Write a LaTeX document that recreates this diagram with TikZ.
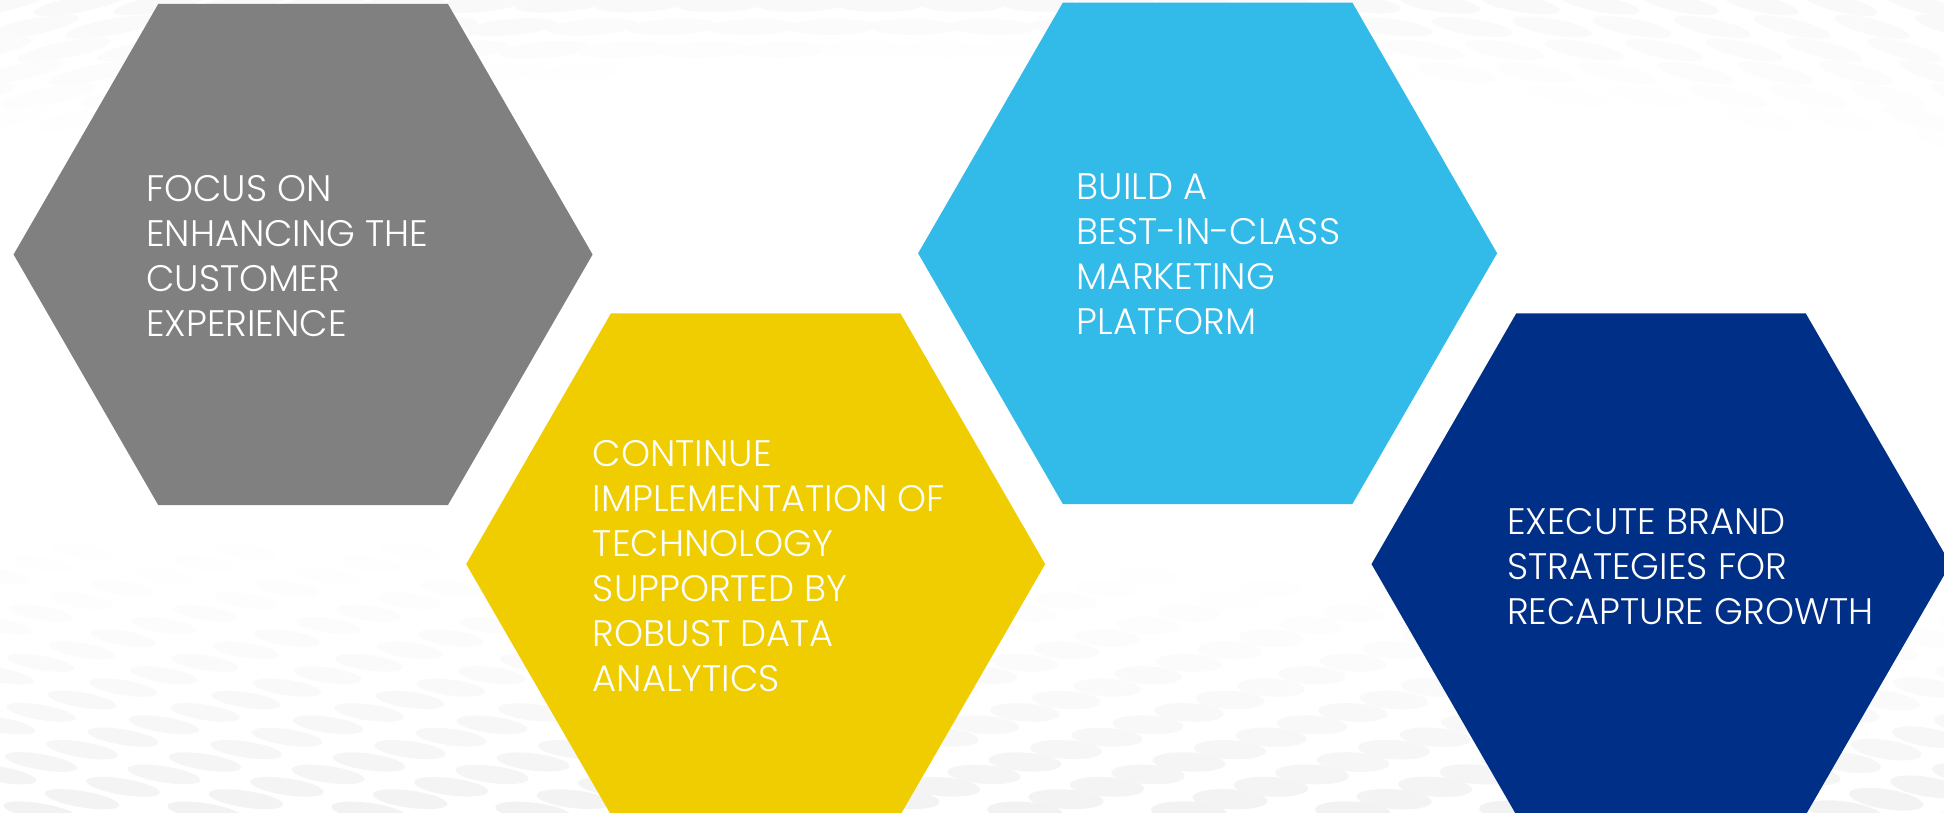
\documentclass[tikz,border=0pt]{standalone}
\usepackage{fontspec}
\setmainfont{Poppins Light}
\usetikzlibrary{shapes.geometric}
\definecolor{hexgray}{RGB}{128,128,128}
\definecolor{hexyellow}{RGB}{239,205,0}
\definecolor{hexsky}{RGB}{50,186,232}
\definecolor{hexnavy}{RGB}{0,47,135}
\tikzset{
  hexa/.style={regular polygon, regular polygon sides=6, minimum size=579pt, inner sep=0pt, outer sep=0pt, draw=none},
  txt/.style={text=white, align=left, inner sep=0pt, anchor=north west, font=\fontsize{36.9}{45}\selectfont},
}
\begin{document}
\begin{tikzpicture}[x=1pt,y=-1pt]
\useasboundingbox (0,0) rectangle (1944,813);
\fill[white] (0,0) rectangle (1944,813);
\begin{scope}
\clip (0,0) rectangle (1944,813);
% background ellipse pattern (bottom)
\foreach \n in {0,...,25}{
  \pgfmathsetmacro{\yy}{824-12.4*\n}
  \pgfmathsetmacro{\ph}{mod(41*\n,164)}
  \foreach \k in {0,...,13}{
    \pgfmathsetmacro{\xx}{\ph+164*\k-164}
    \pgfmathsetmacro{\yz}{520+0.03*\xx}
    \pgfmathsetmacro{\t}{max(0.01,min(1,(\yy-\yz)/(813-\yz)))}
    \pgfmathsetmacro{\sh}{5*\t^1.3}
    \pgfmathsetmacro{\s}{0.78+0.22*\t}
    \pgfmathsetmacro{\rx}{38*\s}
    \pgfmathsetmacro{\ry}{min(10,8+0.0017*\xx)*\s}
    \pgfmathsetmacro{\tl}{\xx<1300 ? max(3,10-0.006*\xx) : 3+0.01*(\xx-1300)}
    \ifdim\sh pt>0.15pt
      \fill[black!\sh, rotate around={-\tl:(\xx,\yy)}] (\xx,\yy) ellipse ({\rx} and {\ry});
    \fi
  }
}
% background ellipse pattern (top, faint)
\foreach \r in {0,...,6}{
  \pgfmathsetmacro{\yy}{4+23*\r}
  \foreach \c in {-1,...,25}{
    \pgfmathsetmacro{\xx}{80*\c+mod(\r,2)*40-8*\r}
    \pgfmathsetmacro{\ym}{60+90*(abs((\xx-950)/950)+0.001)^1.5}
    \pgfmathsetmacro{\sh}{2.6*max(0,1-\yy/\ym)}
    \pgfmathsetmacro{\tl}{12-\xx/72}
    \pgfmathsetmacro{\rx}{38+10*max(0,1-\xx/1944)}
    \ifdim\sh pt>0.15pt
      \fill[black!\sh, rotate around={\tl:(\xx,\yy)}] (\xx,\yy) ellipse ({\rx} and 8);
    \fi
  }
}
% hexagons
\node[hexa, fill=hexgray]   (h1) at (303.1,254.5) {};
\node[hexa, fill=hexyellow] (h2) at (755.7,564.1) {};
\node[hexa, fill=hexsky]    (h3) at (1207.6,253.3) {};
\node[hexa, fill=hexnavy]   (h4) at (1661,564.1) {};
% texts
\node[txt] (t1) at (146,175) {FOCUS ON\\ENHANCING THE\\CUSTOMER\\EXPERIENCE};
\node[txt] (t2) at (592.7,440) {CONTINUE\\IMPLEMENTATION OF\\TECHNOLOGY\\SUPPORTED BY\\ROBUST DATA\\ANALYTICS};
\node[txt] (t3) at (1076.7,174) {BUILD A\\BEST-IN-CLASS\\MARKETING\\PLATFORM};
\node[txt] (t4) at (1507,508) {EXECUTE BRAND\\STRATEGIES FOR\\RECAPTURE GROWTH};
\end{scope}
\end{tikzpicture}
\end{document}
